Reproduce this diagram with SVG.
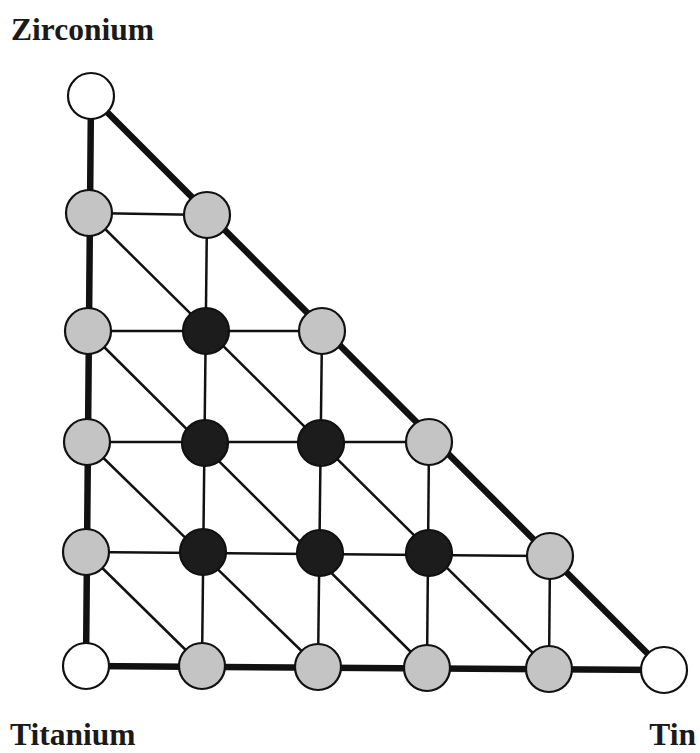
<svg xmlns="http://www.w3.org/2000/svg" width="700" height="753" viewBox="0 0 700 753">
<style>
.lbl{font-family:"Liberation Serif","Times New Roman",serif;font-weight:bold;font-size:31.5px;fill:#1a1a1a}
.thick{stroke:#111;stroke-width:6.5;fill:none;stroke-linecap:round}
.thin{stroke:#111;stroke-width:2.5;fill:none}
.n circle{stroke:#111;stroke-width:2.2}
.w circle{fill:#fff}
.g circle{fill:#c4c4c4}
.d circle{fill:#1c1c1c}
</style>
<rect width="700" height="753" fill="#fff"/>
<g id="connectors">
<g class="thin">
<line x1="89" y1="213" x2="207" y2="215"/>
<line x1="88" y1="331" x2="322" y2="331"/>
<line x1="87" y1="442" x2="429" y2="442"/>
<line x1="86" y1="552" x2="550" y2="556"/>
<line x1="207" y1="215" x2="202" y2="666"/>
<line x1="322" y1="331" x2="318" y2="667"/>
<line x1="429" y1="442" x2="427" y2="668"/>
<line x1="550" y1="556" x2="549" y2="669"/>
<line x1="89" y1="213" x2="549" y2="669"/>
<line x1="88" y1="331" x2="427" y2="668"/>
<line x1="87" y1="442" x2="318" y2="667"/>
<line x1="86" y1="552" x2="202" y2="666"/>
</g>
<g class="thick">
<line x1="91" y1="96" x2="86" y2="666"/>
<line x1="86" y1="666" x2="664" y2="670"/>
<line x1="91" y1="96" x2="664" y2="670"/>
</g>
</g>
<g id="n00" class="n w"><circle cx="91" cy="96" r="23"/></g>
<g id="n10" class="n g"><circle cx="89" cy="213" r="23"/></g>
<g id="n11" class="n g"><circle cx="207" cy="215" r="23"/></g>
<g id="n20" class="n g"><circle cx="88" cy="331" r="23"/></g>
<g id="n21" class="n d"><circle cx="206" cy="331" r="23"/></g>
<g id="n22" class="n g"><circle cx="322" cy="331" r="23"/></g>
<g id="n30" class="n g"><circle cx="87" cy="442" r="23"/></g>
<g id="n31" class="n d"><circle cx="205" cy="443" r="23"/></g>
<g id="n32" class="n d"><circle cx="321" cy="443" r="23"/></g>
<g id="n33" class="n g"><circle cx="429" cy="442" r="23"/></g>
<g id="n40" class="n g"><circle cx="86" cy="552" r="23"/></g>
<g id="n41" class="n d"><circle cx="203" cy="552" r="23"/></g>
<g id="n42" class="n d"><circle cx="320" cy="553" r="23"/></g>
<g id="n43" class="n d"><circle cx="429" cy="553" r="23"/></g>
<g id="n44" class="n g"><circle cx="550" cy="556" r="23"/></g>
<g id="n50" class="n w"><circle cx="86" cy="666" r="23"/></g>
<g id="n51" class="n g"><circle cx="202" cy="666" r="23"/></g>
<g id="n52" class="n g"><circle cx="318" cy="667" r="23"/></g>
<g id="n53" class="n g"><circle cx="427" cy="668" r="23"/></g>
<g id="n54" class="n g"><circle cx="549" cy="669" r="23"/></g>
<g id="n55" class="n w"><circle cx="664" cy="670" r="23"/></g>
<text class="lbl" x="11" y="40">Zirconium</text>
<text class="lbl" x="10" y="745">Titanium</text>
<text class="lbl" x="696" y="745" text-anchor="end">Tin</text>
</svg>
